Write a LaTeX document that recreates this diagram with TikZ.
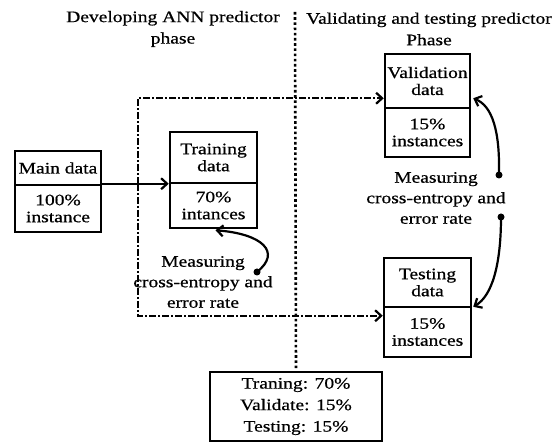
\documentclass[tikz,border=0pt]{standalone}
\usepackage{fontspec}
\setmainfont{Liberation Serif}[FakeStretch=1.22,FakeBold=0.6]
\usetikzlibrary{arrows.meta,calc}
\begin{document}
\begin{tikzpicture}[x=1pt,y=-1pt,
  every node/.style={font=\fontsize{16}{17}\selectfont},
  cell/.style={draw,line width=2.5pt,align=center,inner sep=0pt},
  free/.style={align=center,inner sep=0pt,font=\fontsize{16}{20.5}\selectfont},
  title/.style={align=center,inner sep=0pt,font=\fontsize{16}{21.5}\selectfont},
  barb/.style={-{Straight Barb[length=6pt,width=11pt,line width=2.2pt]}},
  flow/.style={line width=2.4pt,barb},
  dashline/.style={line width=2.2pt,dash pattern=on 7pt off 2pt on 2pt off 2pt,barb},
  sep/.style={line width=2.6pt,dash pattern=on 2.6pt off 2.6pt},
  curv/.style={line width=2.2pt,barb},
  dot/.style={circle,fill,inner sep=0pt,minimum size=7pt}]
\useasboundingbox (0,0) rectangle (557,443);
% titles
\node[title] (tl) at (173,29) {Developing ANN predictor\\phase};
\node[title] (tr) at (429,29) {Validating and testing predictor\\Phase};
% boxes
\node[cell,minimum width=86,minimum height=34] (mainT) at (58,168) {Main data};
\node[cell,minimum width=86,minimum height=47] (mainB) at (58,208.5) {100\%\\instance};
\node[cell,minimum width=87,minimum height=51] (trainT) at (213.5,157.5) {Training\\data};
\node[cell,minimum width=87,minimum height=45] (trainB) at (213.5,205.5) {70\%\\intances};
\node[cell,minimum width=85,minimum height=54] (valT) at (427.5,81) {Validation\\data};
\node[cell,minimum width=85,minimum height=49] (valB) at (427.5,132.5) {15\%\\instances};
\node[cell,minimum width=87,minimum height=49] (testT) at (427.5,282.5) {Testing\\data};
\node[cell,minimum width=87,minimum height=50] (testB) at (427.5,332) {15\%\\instances};
\node[cell,minimum width=172,minimum height=69,font=\fontsize{16}{21.5}\selectfont] (sum) at (296,406.5) {Traning: 70\%\\Validate: 15\%\\Testing: 15\%};
% measuring texts
\node[free] (ml) at (203,282) {Measuring\\cross-entropy and\\error rate};
\node[free] (mr) at (436,198) {Measuring\\cross-entropy and\\error rate};
% separator
\coordinate (septop) at (295,12);
\draw[sep] (septop) -- (sum.north);
% main flow
\draw[flow] (mainB.north east) -- (trainB.north west |- mainB.north east);
\coordinate (split) at (138,184);
\draw[dashline] (split) |- ($(valT.south west)+(0,-11)$);
\draw[dashline] (split) |- ($(testB.north west)+(0,10)$);
% measuring curves
\node[dot] (dl) at (257,272) {};
\node[dot] (dr1) at (499,175) {};
\node[dot] (dr2) at (501,217) {};
\draw[curv] (dl.center) .. controls (282,252) and (262,234) .. ($(trainB.south)+(2,1)$);
\draw[curv] (dr1.center) .. controls (500,130) and (492,106) .. ($(valT.south east)+(2,-11)$);
\draw[curv] (dr2.center) .. controls (501,265) and (492,296) .. ($(testB.north east)+(1,1)$);
\end{tikzpicture}
\end{document}
